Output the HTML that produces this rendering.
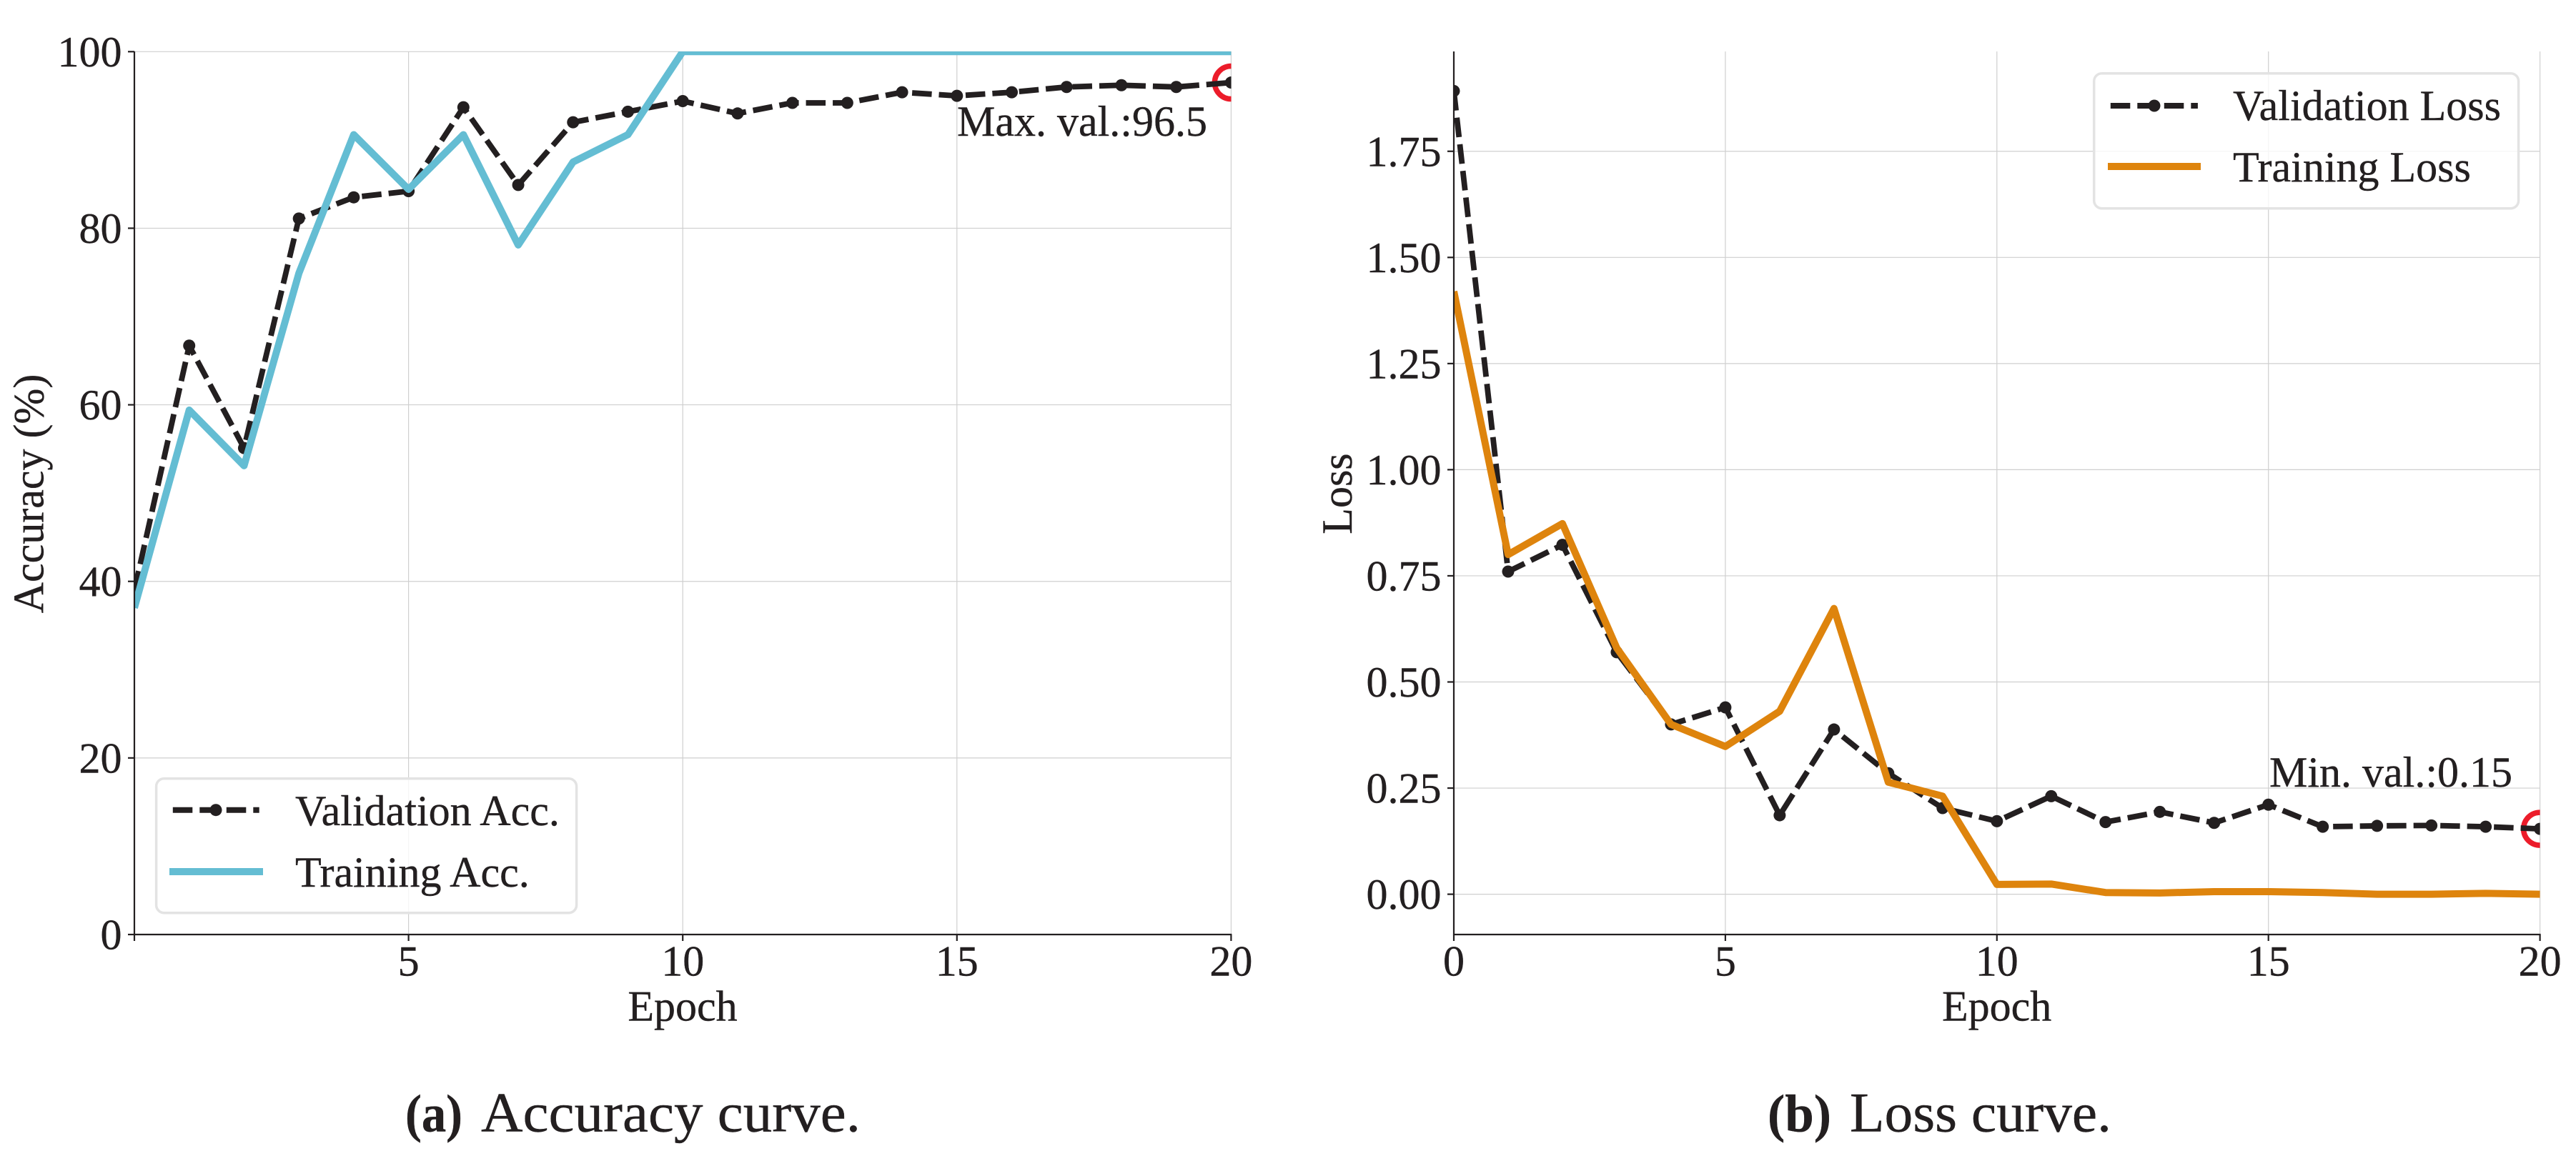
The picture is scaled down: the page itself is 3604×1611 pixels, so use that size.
<!DOCTYPE html>
<html lang="en">
<head>
<meta charset="utf-8">
<title>Accuracy and loss curves</title>
<style>
html,body{margin:0;padding:0;background:#fff;width:3604px;height:1611px;overflow:hidden}
svg{display:block}
text{font-family:"Liberation Serif",serif;fill:#231f20;stroke:#231f20;stroke-width:0.4}
</style>
</head>
<body>
<svg id="figure" xmlns="http://www.w3.org/2000/svg" width="3604" height="1611" viewBox="0 0 3604 1611">
  <defs>
    <clipPath id="clip-a"><rect x="188" y="72" width="1534.5" height="1236"/></clipPath>
    <clipPath id="clip-b"><rect x="2034" y="72" width="1519.6" height="1236"/></clipPath>
  </defs>

  <g id="panel-a">
    <g id="grid-a"></g>
    <g id="marks-a" clip-path="url(#clip-a)"></g>
    <g id="axes-a"></g>
    <text x="60.6" y="691" font-size="60" text-anchor="middle" transform="rotate(-90 60.6 691)">Accuracy (%)</text>
    <text x="955" y="1428.5" font-size="60" text-anchor="middle">Epoch</text>
    <text x="1339" y="190" font-size="60">Max. val.:96.5</text>
    <g>
      <rect x="218.6" y="1089.7" width="588" height="188" rx="11" fill="#fff" fill-opacity="0.8" stroke="#e3e3e3" stroke-width="3.5"/>
      <line x1="241.8" y1="1133.7" x2="362.7" y2="1133.7" stroke="#231f20" stroke-width="8" stroke-dasharray="27.5 10"/>
      <circle cx="302" cy="1133.7" r="8.5" fill="#231f20"/>
      <text x="413" y="1155" font-size="60">Validation Acc.</text>
      <line x1="237" y1="1220" x2="368" y2="1220" stroke="#64bdd3" stroke-width="10"/>
      <text x="413" y="1240.8" font-size="60">Training Acc.</text>
    </g>
    <text x="567" y="1583.7" font-size="74" font-weight="bold" textLength="80" lengthAdjust="spacingAndGlyphs">(a)</text>
    <text x="673" y="1583.7" font-size="78" textLength="531" lengthAdjust="spacingAndGlyphs">Accuracy curve.</text>
  </g>

  <g id="panel-b">
    <g id="grid-b"></g>
    <g id="marks-b" clip-path="url(#clip-b)"></g>
    <g id="axes-b"></g>
    <text x="1891" y="691" font-size="60" text-anchor="middle" transform="rotate(-90 1891 691)">Loss</text>
    <text x="2793.6" y="1428.5" font-size="60" text-anchor="middle">Epoch</text>
    <text x="3175" y="1101" font-size="60">Min. val.:0.15</text>
    <g>
      <rect x="2929.7" y="102.7" width="593.9" height="189" rx="11" fill="#fff" fill-opacity="0.8" stroke="#e3e3e3" stroke-width="3.5"/>
      <line x1="2952.8" y1="148" x2="3074.9" y2="148" stroke="#231f20" stroke-width="8" stroke-dasharray="27.5 10"/>
      <circle cx="3014" cy="148" r="8.5" fill="#231f20"/>
      <text x="3124" y="168" font-size="60">Validation Loss</text>
      <line x1="2949" y1="233" x2="3079" y2="233" stroke="#de840d" stroke-width="10"/>
      <text x="3124" y="254" font-size="60">Training Loss</text>
    </g>
    <text x="2473" y="1583.7" font-size="74" font-weight="bold" textLength="89" lengthAdjust="spacingAndGlyphs">(b)</text>
    <text x="2588" y="1583.7" font-size="78" textLength="366" lengthAdjust="spacingAndGlyphs">Loss curve.</text>
  </g>
</svg>

<script>
const epochs = [0,1,2,3,4,5,6,7,8,9,10,11,12,13,14,15,16,17,18,19,20];
const accValidation = [39,66.7,55.1,81.1,83.5,84.2,93.7,84.9,92,93.2,94.4,93,94.2,94.2,95.4,95,95.4,96,96.2,96,96.5];
const accTraining = [37,59.4,53.1,74.9,90.6,84.4,90.6,78.1,87.5,90.6,100,100,100,100,100,100,100,100,100,100,100];
const lossValidation = [1.892,0.76,0.823,0.57,0.40,0.44,0.186,0.388,0.285,0.203,0.172,0.231,0.17,0.194,0.168,0.211,0.159,0.161,0.162,0.159,0.154];
const lossTraining = [1.42,0.80,0.873,0.58,0.40,0.348,0.431,0.673,0.264,0.231,0.023,0.024,0.004,0.003,0.006,0.006,0.004,0,0,0.002,0];
const accYTicks = [0,20,40,60,80,100];
const accYTickLabels = ["0","20","40","60","80","100"];
const lossYTicks = [0,0.25,0.5,0.75,1,1.25,1.5,1.75];
const lossYTickLabels = ["0.00","0.25","0.50","0.75","1.00","1.25","1.50","1.75"];
const accXTicks = [0,5,10,15,20];
const accXTickLabels = ["","5","10","15","20"];
const lossXTicks = [0,5,10,15,20];
const lossXTickLabels = ["0","5","10","15","20"];

const NS = 'http://www.w3.org/2000/svg';
const INK = '#231f20';

function xA(e){ return 188 + 76.72 * e; }
function yA(v){ return 1308 - 12.357 * v; }
function xB(e){ return 2034 + 75.98 * e; }
function yB(v){ return 1251.6 - 594.2 * v; }

function mk(tag, parent){
  const el = document.createElementNS(NS, tag);
  parent.appendChild(el);
  return el;
}
function pointsOf(values, xf, yf){
  return values.map(function(v, i){ return xf(epochs[i]).toFixed(2) + ',' + yf(v).toFixed(2); }).join(' ');
}

function drawAxes(prefix, xf, yf, xTicks, xLabels, yTicks, yLabels, gridG, axesG){
  const left = xf(0), right = xf(20), top = 72, bottom = 1308;
  xTicks.forEach(function(t, i){
    const g = mk('line', gridG);
    
    
    g.setAttribute('x1', xf(t)); g.setAttribute('x2', xf(t));
    g.setAttribute('y1', top); g.setAttribute('y2', bottom);
    g.setAttribute('stroke', '#cfcfcf'); g.setAttribute('stroke-width', '1.2');

    const tk = mk('line', axesG);
    
    
    tk.setAttribute('x1', xf(t)); tk.setAttribute('x2', xf(t));
    tk.setAttribute('y1', bottom); tk.setAttribute('y2', bottom + 9);
    tk.setAttribute('stroke', INK); tk.setAttribute('stroke-width', '2.2');

    if (xLabels[i] !== '') {
      const lb = mk('text', axesG);
      
      
      lb.setAttribute('x', xf(t)); lb.setAttribute('y', 1365.4);
      lb.setAttribute('font-size', '60'); lb.setAttribute('text-anchor', 'middle');
      lb.textContent = xLabels[i];
    }
  });
  yTicks.forEach(function(t, i){
    const g = mk('line', gridG);
    
    
    g.setAttribute('x1', left); g.setAttribute('x2', right);
    g.setAttribute('y1', yf(t)); g.setAttribute('y2', yf(t));
    g.setAttribute('stroke', '#cfcfcf'); g.setAttribute('stroke-width', '1.2');

    const tk = mk('line', axesG);
    
    
    tk.setAttribute('x1', left - 9); tk.setAttribute('x2', left);
    tk.setAttribute('y1', yf(t)); tk.setAttribute('y2', yf(t));
    tk.setAttribute('stroke', INK); tk.setAttribute('stroke-width', '2.2');

    const lb = mk('text', axesG);
    
    
    lb.setAttribute('x', left - 17.5); lb.setAttribute('y', yf(t) + 20.5);
    lb.setAttribute('font-size', '60'); lb.setAttribute('text-anchor', 'end');
    lb.textContent = yLabels[i];
  });
  const sl = mk('line', axesG);
  
  
  sl.setAttribute('x1', left); sl.setAttribute('x2', left);
  sl.setAttribute('y1', top); sl.setAttribute('y2', bottom + 1);
  sl.setAttribute('stroke', INK); sl.setAttribute('stroke-width', '2.2');
  const sb = mk('line', axesG);
  
  
  sb.setAttribute('x1', left); sb.setAttribute('x2', right + 1);
  sb.setAttribute('y1', bottom); sb.setAttribute('y2', bottom);
  sb.setAttribute('stroke', INK); sb.setAttribute('stroke-width', '2.2');
}

function drawSeries(prefix, xf, yf, valSeries, trainSeries, bestIndex, trainColor, g){
  const ring = mk('circle', g);
  
  
  ring.setAttribute('cx', xf(epochs[bestIndex])); ring.setAttribute('cy', yf(valSeries[bestIndex]));
  ring.setAttribute('r', '23'); ring.setAttribute('fill', 'none');
  ring.setAttribute('stroke', '#ec1c2a'); ring.setAttribute('stroke-width', '7.5');

  const vl = mk('polyline', g);
  
  
  vl.setAttribute('points', pointsOf(valSeries, xf, yf));
  vl.setAttribute('fill', 'none'); vl.setAttribute('stroke', INK);
  vl.setAttribute('stroke-width', '7.8'); vl.setAttribute('stroke-dasharray', '27.5 10');
  vl.setAttribute('stroke-linejoin', 'round');

  valSeries.forEach(function(v, i){
    const c = mk('circle', g);
    
    
    c.setAttribute('cx', xf(epochs[i])); c.setAttribute('cy', yf(v));
    c.setAttribute('r', '8.5'); c.setAttribute('fill', INK);
  });

  const tl = mk('polyline', g);
  
  
  tl.setAttribute('points', pointsOf(trainSeries, xf, yf));
  tl.setAttribute('fill', 'none'); tl.setAttribute('stroke', trainColor);
  tl.setAttribute('stroke-width', '10'); tl.setAttribute('stroke-linejoin', 'round');
}

drawAxes('accuracy', xA, yA, accXTicks, accXTickLabels, accYTicks, accYTickLabels,
  document.getElementById('grid-a'), document.getElementById('axes-a'));
drawSeries('accuracy', xA, yA, accValidation, accTraining,
  accValidation.indexOf(Math.max.apply(null, accValidation)), '#64bdd3', document.getElementById('marks-a'));

drawAxes('loss', xB, yB, lossXTicks, lossXTickLabels, lossYTicks, lossYTickLabels,
  document.getElementById('grid-b'), document.getElementById('axes-b'));
drawSeries('loss', xB, yB, lossValidation, lossTraining,
  lossValidation.indexOf(Math.min.apply(null, lossValidation)), '#de840d', document.getElementById('marks-b'));
</script>
</body>
</html>
